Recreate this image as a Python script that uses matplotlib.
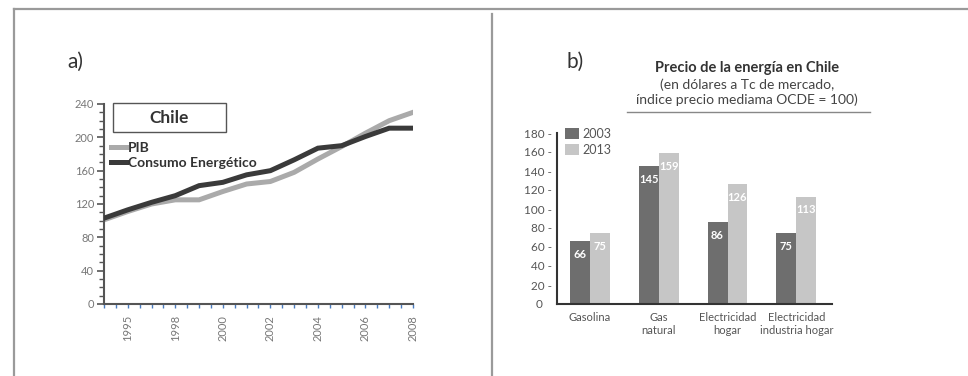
import matplotlib.pyplot as plt
import matplotlib.patches as mpatches
from matplotlib.lines import Line2D
from matplotlib.ticker import FixedLocator, MultipleLocator
import numpy as np

# Panel a) series (index)
years = [1995, 1996, 1997, 1998, 1999, 2000, 2001, 2002, 2003, 2004, 2005, 2006, 2007, 2008]
pib = [101, 111, 120, 125, 125, 135, 144, 147, 158, 174, 189, 205, 220, 230]
consumo = [103, 113, 122, 130, 142, 146, 155, 160, 173, 187, 190, 201, 211, 211]
year_tick_pos = [1996, 1998, 2000, 2002, 2004, 2006, 2008]
year_tick_labels = ['1995', '1998', '2000', '2002', '2004', '2006', '2008']

# Panel b) prices
categorias = ['Gasolina', 'Gas\nnatural', 'Electricidad\nhogar', 'Electricidad\nindustria hogar']
precio_2003 = [66, 145, 86, 75]
precio_2013 = [75, 159, 126, 113]
anios = ['2003', '2013']

plt.rcParams['font.family'] = ['Lato', 'DejaVu Sans']

W, H = 968, 376
fig = plt.figure(figsize=(W / 100, H / 100), dpi=100)


def fx(x):
    return x / W


def fy(y):
    return 1 - y / H


# outer frame and divider
frame = dict(color='#9a9a9a', linewidth=1.6, transform=fig.transFigure)
fig.add_artist(Line2D([fx(14), fx(968)], [fy(9), fy(9)], **frame))
fig.add_artist(Line2D([fx(14), fx(14)], [fy(9), fy(376)], **frame))
fig.add_artist(Line2D([fx(492), fx(492)], [fy(14), fy(376)], **frame))

dark_line = '#3a3a3a'
light_line = '#aaaaaa'

# ---- a) PIB vs consumo energético ----
ax1 = fig.add_axes([fx(104), fy(304), (413 - 104) / W, 200 / H])
ax1.plot(years, pib, color=light_line, linewidth=3.6, solid_joinstyle='miter', label='PIB', zorder=2)
ax1.plot(years, consumo, color=dark_line, linewidth=3.6, solid_joinstyle='miter',
         label='Consumo Energético', zorder=3)
ax1.set_xlim(1995, 2008)
ax1.set_ylim(0, 240)
ax1.set_yticks(np.arange(0, 241, 40))
ax1.yaxis.set_minor_locator(MultipleLocator(10))
ax1.xaxis.set_major_locator(FixedLocator(year_tick_pos))
ax1.set_xticklabels(year_tick_labels, rotation=90)
ax1.xaxis.set_minor_locator(MultipleLocator(0.5))
ax1.tick_params(axis='y', which='major', length=5, width=1.2, color='#555555',
                labelsize=8, labelcolor='#777777', pad=2)
ax1.tick_params(axis='y', which='minor', length=3.5, width=1.0, color='#555555')
ax1.tick_params(axis='x', which='both', length=3, width=1.0, color='#4a7cc0',
                labelsize=8, labelcolor='#777777', pad=5)
for s in ['top', 'right']:
    ax1.spines[s].set_visible(False)
for s in ['left', 'bottom']:
    ax1.spines[s].set_color('#555555')
    ax1.spines[s].set_linewidth(1.5)

ax1.add_patch(mpatches.Rectangle((0.029, 0.86), 0.366, 0.145, transform=ax1.transAxes,
                                 facecolor='white', edgecolor='#555555', linewidth=1.0,
                                 clip_on=False, zorder=4))
ax1.text(0.212, 0.932, 'Chile', transform=ax1.transAxes, ha='center', va='center',
         fontsize=12.5, fontweight='bold', color='#333333', zorder=5)
leg1 = ax1.legend(loc='upper left', bbox_to_anchor=(0.022, 0.81), frameon=False,
                  prop={'weight': 'bold', 'size': 10}, handlelength=1.1, handletextpad=0.15,
                  labelspacing=0.2, borderpad=0, borderaxespad=0)
for t in leg1.get_texts():
    t.set_color('#333333')

fig.text(fx(67), fy(62), 'a)', fontsize=15, color='#333333', va='center', ha='left')

# ---- b) Precio de la energía ----
dark_bar = '#6e6e6e'
light_bar = '#c6c6c6'
ax2 = fig.add_axes([fx(557), fy(304), (832 - 557) / W, 171 / H])
x = np.arange(len(categorias))
w = 0.29
b1 = ax2.bar(x - w / 2, precio_2003, w, color=dark_bar, label=anios[0])
b2 = ax2.bar(x + w / 2, precio_2013, w, color=light_bar, label=anios[1])
for xi, v in zip(x, precio_2003):
    ax2.text(xi - w / 2, v - 14, str(v), ha='center', va='center', color='white',
             fontsize=8, fontweight='bold')
for xi, v in zip(x, precio_2013):
    ax2.text(xi + w / 2, v - 14, str(v), ha='center', va='center', color='white',
             fontsize=8, fontweight='bold')
ax2.set_xlim(-0.48, 3.52)
ax2.set_ylim(0, 180)
yt = np.arange(0, 181, 20)
ax2.set_yticks(yt)
ax2.set_yticklabels([f'{v} -' if v else '0   ' for v in yt])
ax2.set_xticks(x)
ax2.set_xticklabels(categorias, linespacing=1.15)
ax2.tick_params(axis='y', length=0, labelsize=8.5, labelcolor='#555555', pad=3.5)
ax2.tick_params(axis='x', length=0, labelsize=8, labelcolor='#555555', pad=6)
for s in ['top', 'right']:
    ax2.spines[s].set_visible(False)
for s in ['left', 'bottom']:
    ax2.spines[s].set_color('#333333')
    ax2.spines[s].set_linewidth(1.5)
leg2 = ax2.legend(loc='upper left', bbox_to_anchor=(0.029, 1.03), frameon=False,
                  fontsize=9, handlelength=1.1, handleheight=1.05, handletextpad=0.3,
                  labelspacing=0.3, borderpad=0, borderaxespad=0)
for t in leg2.get_texts():
    t.set_color('#555555')

fig.text(fx(566), fy(62), 'b)', fontsize=15, color='#333333', va='center', ha='left')
fig.text(fx(747), fy(68), 'Precio de la energía en Chile', fontsize=10.5, fontweight='bold',
         color='#333333', ha='center', va='center')
fig.text(fx(747), fy(85), '(en dólares a Tc de mercado,', fontsize=10,
         color='#444444', ha='center', va='center')
fig.text(fx(747), fy(100), 'índice precio mediama OCDE = 100)', fontsize=10,
         color='#444444', ha='center', va='center')
fig.add_artist(Line2D([fx(627), fx(870)], [fy(112), fy(112)], color='#888888',
                      linewidth=1.0, transform=fig.transFigure))

plt.savefig('out.png', dpi=100)
